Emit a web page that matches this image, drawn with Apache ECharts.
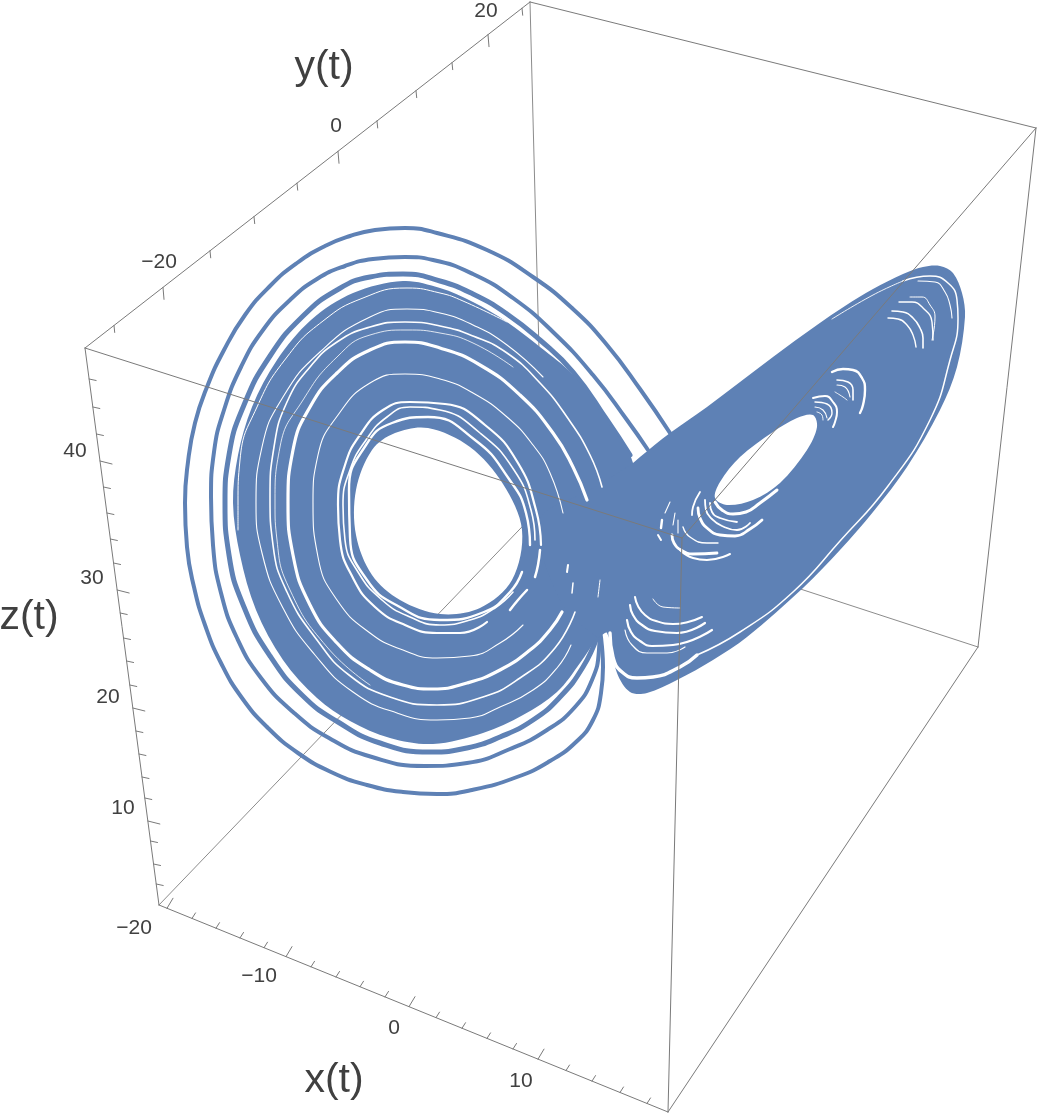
<!DOCTYPE html>
<html>
<head>
<meta charset="utf-8">
<script src="https://cdn.jsdelivr.net/npm/echarts@6/dist/echarts.min.js"></script>
<style>
html, body { margin: 0; padding: 0; background: #fff; }
#chart { width: 1042px; height: 1117px; }
</style>
</head>
<body>
<div id="chart"></div>
<script>
const backEdges = [
  [[159, 905], [543, 505]],
  [[530, 2], [543, 505]],
  [[543, 505], [978, 647]]
];
const frontEdges = [
  [[85, 348], [530, 2]],
  [[530, 2], [1036, 128]],
  [[1036, 128], [978, 647]],
  [[978, 647], [668, 1112]],
  [[85, 348], [159, 905]],
  [[159, 905], [668, 1112]],
  [[85, 348], [682, 538]],
  [[682, 538], [1036, 128]],
  [[682, 538], [668, 1112]]
];

const zTickY = [379, 407, 434, 461, 487, 513, 539, 563, 590, 613, 638, 661, 685, 708, 731, 754, 777, 798, 821, 841, 864, 884];
const zMajorY = [461, 590, 708, 821];
const xTickX = [167, 192, 216, 240, 264, 286, 311, 336, 360, 385, 409, 436, 462, 487, 513, 538, 566, 592, 620, 647];
const xMajorX = [167, 286, 409, 538];
const yTickX = [114, 163, 210, 254, 297, 338, 377, 416, 452, 488, 522];
const yMajorX = [163, 338, 488];

const tickLabels = [
  ["\u221220", 159, 262], ["0", 336, 126], ["20", 486, 11],
  ["40", 75, 451], ["30", 92, 578], ["20", 108, 697], ["10", 123, 808],
  ["\u221220", 134, 928], ["\u221210", 259, 976], ["0", 394, 1028], ["10", 521, 1081]
];
const axisTitles = [["y(t)", 324, 68], ["z(t)", 29, 618], ["x(t)", 334, 1081]];

const loop1 = [[670,433],[640,389],[607,345],[573,309],[533,277],[487,250],[437,233],[405,228],[375,230],[350,236],[325,246],[297,263],[270,286],[245,315],[224,350],[207,387],[195,423],[188,462],[185,503],[187,547],[194,587],[205,625],[221,663],[242,698],[268,728],[298,753],[331,772],[367,785],[403,792],[437,794],[472,790],[517,777],[550,761],[576,742],[593,720],[601,693],[603,667],[602,647],[600,630]];
const loop2 = [[648,450],[627,420],[593,375],[553,332],[513,298],[473,274],[433,260],[405,257],[373,259],[345,266],[317,279],[290,300],[263,330],[241,367],[224,410],[214,452],[211,497],[213,545],[221,593],[237,638],[261,678],[293,712],[329,738],[372,757],[425,766],[467,763],[510,749],[547,730],[575,707],[592,680],[599,650],[600,625]];
const loop3 = [[630,455],[607,420],[573,372],[540,340],[507,314],[473,294],[440,281],[403,274],[370,277],[337,290],[303,316],[270,356],[244,405],[229,455],[225,503],[229,555],[244,607],[270,656],[303,696],[338,722],[380,743],[430,752],[467,748],[500,737],[533,720],[560,697],[583,667],[597,637]];

const leftOuter = [[403,281],[440,288],[473,302],[507,322],[540,347],[573,375],[607,422],[633,463],[640,560],[597,637],[580,663],[557,692],[523,715],[483,733],[433,744],[390,738],[350,721],[317,698],[283,660],[256,610],[240,555],[233,503],[238,455],[252,407],[277,360],[311,320],[353,293]];
const leftHole = [[428,428],[470,447],[503,484],[522,530],[512,580],[480,608],[440,614],[400,600],[372,575],[356,535],[356,490],[372,450],[395,433]];
const wingOuter = [[633,463],[640,457],[670,433],[707,407],[773,357],[817,325],[845,306],[873,289],[903,274],[923,267],[940,266],[953,273],[962,293],[965,317],[957,367],[940,410],[907,467],[873,512],[840,550],[803,588],[747,637],[713,660],[677,680],[647,693],[630,692],[617,673],[607,633],[597,637],[560,600],[540,520],[590,490]];
const wingHole = [[813,415],[817,427],[807,450],[780,483],[753,500],[727,505],[715,498],[720,482],[740,457],[773,432],[797,418]];

// white gaps inside the solid part
const gapRing1 = [[507,322],[463,301],[440,293],[407,288],[363,298],[323,321],[287,357],[257,407],[240,460],[238,503],[238,530]];
const gapRing2 = [[543,377],[507,345],[473,325],[440,313],[407,309],[370,317],[320,352],[283,397],[262,447],[256,503],[262,553],[283,608],[315,655],[353,692],[397,713],[437,720],[470,718],[500,707],[533,690],[557,668],[571,645]];
const gapRing3 = [[602,487],[590,455],[567,417],[540,383],[507,353],[473,336],[440,326],[405,322],[370,327],[337,342],[310,367],[287,402],[274,447],[270,497],[273,545],[287,592],[317,640],[349,675],[390,697],[437,705],[483,697],[520,678],[555,648],[575,612]];
const gapRing4 = [[513,367],[473,343],[440,333],[407,330],[370,335],[337,357],[303,400],[280,447],[275,503],[277,540],[290,590],[327,647],[370,685]];
const gapRing5 = [[587,500],[573,467],[553,433],[520,395],[480,365],[440,348],[405,342],[370,350],[337,373],[310,407],[293,450],[288,503],[293,555],[310,605],[337,643],[370,670],[403,685],[433,689],[467,683],[500,670],[530,650],[550,630],[562,612]];
const gapRing6 = [[563,513],[550,473],[533,445],[507,417],[473,393],[440,379],[405,374],[370,383],[338,415],[318,455],[313,503],[318,557],[337,600],[370,633],[403,650],[437,658],[470,656],[500,643],[523,625]];
const gapRing7 = [[541,545],[536,510],[518,463],[485,425],[445,404],[410,402],[383,410],[360,435],[345,465],[338,505],[340,540],[353,578],[375,607],[405,625],[437,633],[460,633],[487,622]];
const gapRing8 = [[535,540],[531,510],[514,470],[480,433],[440,410],[410,407],[387,417],[366,440],[350,470],[343,505],[345,540],[358,572],[382,600],[410,617],[440,625],[470,620],[495,608],[513,592]];
const gapRing9 = [[530,545],[526,513],[509,479],[475,440],[428,417],[392,423],[366,445],[349,490],[350,537],[367,580],[398,606],[440,620],[484,612],[510,592],[522,572]];
const gapStroke2 = [[540,550],[538,565],[535,577]];
const gapStroke3 = [[527,590],[518,600],[510,610]];
const gapStroke4 = [[600,580],[598,597]];
const gapStroke5 = [[573,583],[572,593]];
const gapStroke6 = [[568,565],[567,572]];

const wingCurve1 = [[715,502],[722,510],[733,514],[746,512],[760,503],[777,490]];
const wingCurve2 = [[710,503],[712,512],[720,518],[737,522]];
const wingCurve3 = [[705,500],[706,510],[712,519],[722,526],[737,530],[750,523]];
const wingCurve4 = [[698,508],[700,518],[707,528],[720,535],[735,536],[750,529],[762,520]];
const wingCurve5 = [[683,527],[690,537],[707,543],[718,543]];
const wingCurve6 = [[700,492],[693,507],[692,515]];
const wingCurve7 = [[672,535],[674,543],[681,550],[693,554],[717,553]];
const wingCurve8 = [[680,550],[693,558],[707,560],[730,554]];
const wingCurve9 = [[670,502],[665,513]];
const wingCurve10 = [[662,520],[661,528]];
const wingCurve11 = [[658,535],[661,540]];
const wingCurve12 = [[675,513],[673,525]];
const wingCurve13 = [[678,520],[678,533]];
const lowCurve1 = [[635,597],[638,606],[645,615],[656,621],[673,624],[688,622],[702,617]];
const lowCurve2 = [[630,605],[633,615],[642,625],[655,631],[677,633],[705,623]];
const lowCurve3 = [[627,620],[631,632],[640,641],[652,646],[673,645],[712,630]];
const lowCurve4 = [[625,630],[632,645],[647,653],[667,653],[685,647]];
const lowCurve5 = [[610,633],[613,657],[622,672],[637,678],[653,677],[680,667],[697,655]];
const lowCurve6 = [[653,599],[663,607],[680,608]];
const rimGap = [[697,655],[740,632],[793,592],[840,541],[888,486],[930,420],[950,360],[958,318],[957,300],[948,283],[930,276],[903,281]];
const rimGapTop = [[903,281],[873,295],[832,319]];
const tipCurve1 = [[918,281],[935,282],[945,292],[950,305],[952,318]];
const tipCurve2 = [[910,297],[922,297],[930,305],[935,317],[932,340]];
const tipCurve3 = [[899,302],[912,302],[923,308],[932,322],[933,340]];
const tipCurve4 = [[892,311],[903,312],[913,318],[920,328],[923,338],[923,348]];
const tipCurve5 = [[888,318],[898,319],[907,325],[913,335],[916,347]];
const midCurve1 = [[832,372],[843,369],[853,370],[862,378],[865,390],[863,405],[860,413]];
const midCurve2 = [[837,380],[848,382],[853,390],[853,400]];
const midCurve3 = [[837,385],[845,387],[850,397]];
const midCurve4 = [[835,392],[843,397],[847,400]];
const midCurve5 = [[813,398],[825,396],[833,402],[837,412],[835,422],[833,427]];
const midCurve6 = [[815,402],[827,404],[832,413],[828,420]];
const midCurve7 = [[815,407],[823,410],[827,418]];
const midCurve8 = [[817,412],[822,415],[823,420]];

const BLUE = "#5E81B5";
const FONT = "Liberation Sans";

function lineOf(data, color, width, z, smooth) {
  return {
    type: "line", data: data, z: z, silent: true,
    showSymbol: false, symbol: "none", smooth: smooth === undefined ? 0.5 : smooth,
    lineStyle: { color: color, width: width, cap: "round", join: "round" },
    animation: false
  };
}

function ringPath(points, api) {
  // closed spline through the points, tangents scaled by chord length
  const p = points.map(function (q) { return api.coord(q); });
  const n = p.length;
  const len = function (a, b) { return Math.hypot(a[0] - b[0], a[1] - b[1]) || 1; };
  const tan = function (i) {
    const a = p[(i - 1 + n) % n], b = p[i], c = p[(i + 1) % n];
    const s = len(a, b) + len(b, c);
    return [(c[0] - a[0]) / s, (c[1] - a[1]) / s];
  };
  let d = "M" + p[0][0] + " " + p[0][1];
  for (let i = 0; i < n; i++) {
    const b = p[i], c = p[(i + 1) % n], l = len(b, c) / 3;
    const t0 = tan(i), t1 = tan((i + 1) % n);
    d += "C" + (b[0] + t0[0] * l) + " " + (b[1] + t0[1] * l) + " " +
      (c[0] - t1[0] * l) + " " + (c[1] - t1[1] * l) + " " + c[0] + " " + c[1];
  }
  return d + "Z";
}

function massOf(outer, hole) {
  return {
    type: "custom", z: 3, silent: true, animation: false,
    data: [[0, 0]],
    renderItem: function (params, api) {
      return {
        type: "path",
        shape: { pathData: ringPath(outer, api) + ringPath(hole.slice().reverse(), api) },
        style: { fill: BLUE, stroke: null }
      };
    }
  };
}

function tickData(bases, majors, along, mx, my, sx, sy) {
  const out = [];
  bases.forEach(function (b) {
    const big = majors.indexOf(b) >= 0;
    const start = along(b);
    out.push(start, [start[0] + (big ? mx : sx), start[1] + (big ? my : sy)], "-");
  });
  return out;
}

const onZ = function (y) { return [85 + (y - 348) * 74 / 557, y]; };
const onX = function (x) { return [x, 905 + (x - 159) * 207 / 509]; };
const onY = function (x) { return [x, 348 - (x - 85) * 346 / 445]; };

function textSeries(rows, size, z) {
  return {
    type: "scatter", z: z, silent: true, animation: false, symbolSize: 0,
    itemStyle: { opacity: 1 },
    data: rows.map(function (r) { return { value: [r[1], r[2]], name: r[0] }; }),
    label: {
      show: true, position: "inside", formatter: "{b}", color: "#404040", opacity: 1,
      fontFamily: FONT, fontSize: size, align: "center", verticalAlign: "middle"
    }
  };
}

const series = [];
backEdges.forEach(function (e) { series.push(lineOf(e, "#8c8c8c", 1, 1, false)); });
[loop1, loop2].forEach(function (l) { series.push(lineOf(l, BLUE, 4, 2)); });
series.push(lineOf(loop3, BLUE, 5, 2));
series.push(massOf(leftOuter, leftHole));
series.push(massOf(wingOuter, wingHole));

[
  [gapRing1, 1], [gapRing2, 1.1], [gapRing3, 1.6], [gapRing4, 0.8], [gapRing5, 3.2],
  [gapRing6, 1.1], [gapRing7, 2.2], [gapRing8, 1.6], [gapRing9, 2.4],
  [gapStroke2, 2.5], [gapStroke3, 2.5], [gapStroke4, 1], [gapStroke5, 1.5], [gapStroke6, 2],
  [wingCurve1, 3], [wingCurve2, 1.8], [wingCurve3, 1.8], [wingCurve4, 2.8], [wingCurve5, 1.4], [wingCurve6, 1.8],
  [wingCurve7, 2.8], [wingCurve8, 2], [wingCurve9, 1.1], [wingCurve10, 2.4], [wingCurve11, 2], [wingCurve12, 1.1], [wingCurve13, 1.1],
  [lowCurve1, 2], [lowCurve2, 2.2], [lowCurve3, 2.2], [lowCurve4, 1.2], [lowCurve5, 3.4], [lowCurve6, 1],
  [rimGap, 1.5], [rimGapTop, 0.9], [tipCurve1, 1.1], [tipCurve2, 1], [tipCurve3, 1.4], [tipCurve4, 1.6], [tipCurve5, 1.4],
  [midCurve1, 2.4], [midCurve2, 1.6], [midCurve3, 1.1], [midCurve4, 0.9],
  [midCurve5, 2], [midCurve6, 1.4], [midCurve7, 1.1], [midCurve8, 0.9]
].forEach(function (g) { series.push(lineOf(g[0], "#ffffff", g[1], 4)); });

frontEdges.forEach(function (e) { series.push(lineOf(e, "#7a7a7a", 1, 5, false)); });
series.push(lineOf(tickData(zTickY, zMajorY, onZ, 12, 3, 7, 1.5), "#7a7a7a", 1, 5, false));
series.push(lineOf(tickData(xTickX, xMajorX, onX, 6, -10, 3.5, -5.5), "#7a7a7a", 1, 5, false));
series.push(lineOf(tickData(yTickX, yMajorX, onY, 1, 12, 0.7, 7), "#7a7a7a", 1, 5, false));
series.push(textSeries(tickLabels, 21, 6));
series.push(textSeries(axisTitles, 41, 6));

const myChart = echarts.init(document.getElementById("chart"));
myChart.setOption({
  backgroundColor: "#ffffff",
  animation: false,
  grid: { left: 0, right: 0, top: 0, bottom: 0 },
  xAxis: { type: "value", min: 0, max: 1042, show: false },
  yAxis: { type: "value", min: 0, max: 1117, inverse: true, show: false },
  series: series
});
</script>
</body>
</html>
